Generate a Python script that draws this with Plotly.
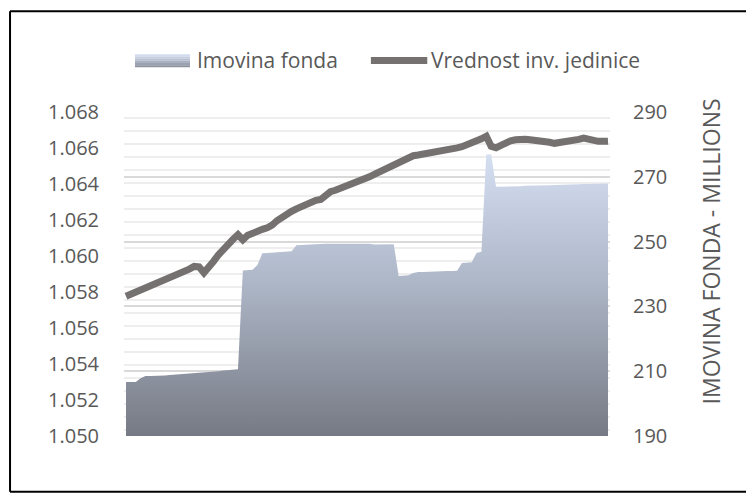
import plotly.graph_objects as go

# fund net asset value per unit (left axis)
unit_value = [
    1.05776, 1.05787, 1.05798, 1.05807, 1.05823, 1.05836, 1.05847, 1.05858, 1.05871, 1.05881,
    1.05891, 1.05901, 1.05912, 1.05927, 1.05942, 1.05940, 1.05907, 1.05934, 1.05971, 1.06007,
    1.06040, 1.06068, 1.06093, 1.06118, 1.06090, 1.06115, 1.06129, 1.06140, 1.06148, 1.06157,
    1.06171, 1.06196, 1.06215, 1.06236, 1.06248, 1.06262, 1.06276, 1.06288, 1.06299, 1.06309,
    1.06314, 1.06340, 1.06357, 1.06365, 1.06375, 1.06384, 1.06397, 1.06404, 1.06414, 1.06423,
    1.06440, 1.06454, 1.06468, 1.06482, 1.06496, 1.06509, 1.06523, 1.06537, 1.06551, 1.06557,
    1.06561, 1.06565, 1.06573, 1.06582, 1.06586, 1.06588, 1.06591, 1.06596, 1.06601, 1.06607,
    1.06615, 1.06626, 1.06640, 1.06651, 1.06665, 1.06609, 1.06601, 1.06615, 1.06629, 1.06640,
    1.06646, 1.06651, 1.06648, 1.06646, 1.06644, 1.06642, 1.06640, 1.06632, 1.06626, 1.06629,
    1.06632, 1.06636, 1.06643, 1.06648, 1.06655, 1.06646, 1.06637, 1.06637, 1.06637, 1.06638,
]

# fund assets, millions (right axis)
fund_assets = [
    206.7, 206.7, 206.7, 207.8, 208.5, 208.5, 208.5, 208.6, 208.7, 208.8,
    208.9, 209.0, 209.1, 209.2, 209.3, 209.4, 209.5, 209.7, 209.8, 210.0,
    210.2, 210.3, 210.4, 210.6, 241.1, 241.2, 241.3, 242.8, 246.4, 246.5,
    246.6, 246.6, 246.7, 246.8, 247.0, 248.9, 249.0, 249.1, 249.1, 249.2,
    249.2, 249.3, 249.3, 249.3, 249.4, 249.4, 249.4, 249.4, 249.4, 249.4,
    249.3, 249.1, 249.1, 249.2, 249.2, 249.2, 239.4, 239.5, 239.6, 240.3,
    240.6, 240.6, 240.7, 240.7, 240.8, 240.8, 240.9, 240.9, 241.0, 243.4,
    243.5, 243.6, 246.5, 246.9, 276.9, 276.9, 266.9, 266.9, 267.0, 267.0,
    267.1, 267.1, 267.2, 267.2, 267.3, 267.3, 267.4, 267.4, 267.5, 267.5,
    267.6, 267.6, 267.7, 267.7, 267.8, 267.8, 267.8, 267.9, 267.9, 267.9,
]

days = list(range(len(unit_value)))

FONT = "Open Sans"
TEXT_COLOR = "#595959"
LINE_COLOR = "#767171"
AREA_SCALE = [[0, "#767a84"], [0.55, "#aeb7c8"], [1, "#d5dff2"]]

fig = go.Figure()

fig.add_trace(go.Scatter(
    x=days,
    y=fund_assets,
    name="Imovina fonda",
    mode="lines",
    line=dict(width=0),
    fill="tozeroy",
    fillcolor="#b4bccb",
    fillgradient=dict(type="vertical", start=190, stop=277, colorscale=AREA_SCALE),
    yaxis="y",
    showlegend=False,
))

fig.add_trace(go.Scatter(
    x=days,
    y=unit_value,
    name="Vrednost inv. jedinice",
    mode="lines",
    line=dict(color=LINE_COLOR, width=7),
    yaxis="y2",
    showlegend=False,
))

fig.update_layout(
    # sized to fit inside the window together with the page's 8px body margin
    width=738,
    height=485,
    paper_bgcolor="white",
    plot_bgcolor="white",
    margin=dict(l=116, r=136, t=104, b=57, autoexpand=False),
    font=dict(family=FONT, size=20, color=TEXT_COLOR),
    xaxis=dict(
        range=[-0.41, len(days) - 0.59],
        showgrid=False,
        showticklabels=False,
        zeroline=False,
        showline=False,
    ),
    yaxis=dict(
        side="right",
        range=[190, 290],
        dtick=20,
        tick0=190,
        showgrid=True,
        gridcolor="#d9d9d9",
        gridwidth=1.5,
        minor=dict(dtick=4, showgrid=True, gridcolor="#eeeeee", gridwidth=1.5),
        zeroline=False,
        showline=False,
        ticks="",
        ticklabelstandoff=22,
        tickfont=dict(size=20, color=TEXT_COLOR),
    ),
    yaxis2=dict(
        side="left",
        overlaying="y",
        range=[1.050, 1.068],
        dtick=0.002,
        tick0=1.050,
        tickformat=".3f",
        showgrid=False,
        zeroline=False,
        showline=False,
        ticks="",
        ticklabelstandoff=24,
        tickfont=dict(size=20, color=TEXT_COLOR),
    ),
)

# legend: area swatch drawn as stacked bands to mimic the gradient
band_colors = ["#d3dcee", "#c6cfe0", "#b8c0d1", "#a9b1c1", "#9aa1b0", "#8c929f"]
y_top, y_bot = 1.178, 1.138
step = (y_top - y_bot) / len(band_colors)
for k, c in enumerate(band_colors):
    fig.add_shape(
        type="rect", xref="paper", yref="paper",
        x0=0.0226, x1=0.1358,
        y0=y_top - (k + 1) * step, y1=y_top - k * step,
        line=dict(width=0), fillcolor=c, layer="above",
    )
fig.add_annotation(
    text="Imovina fonda", xref="paper", yref="paper",
    x=0.146, y=1.159, xanchor="left", yanchor="middle",
    showarrow=False, font=dict(size=21, color=TEXT_COLOR),
)
fig.add_shape(
    type="line", xref="paper", yref="paper",
    x0=0.508, x1=0.624, y0=1.159, y1=1.159,
    line=dict(color=LINE_COLOR, width=7), layer="above",
)
fig.add_annotation(
    text="Vrednost inv. jedinice", xref="paper", yref="paper",
    x=0.6276, y=1.159, xanchor="left", yanchor="middle",
    showarrow=False, font=dict(size=21, color=TEXT_COLOR),
)

# right axis title
fig.add_annotation(
    text="IMOVINA FONDA - MILLIONS",
    xref="paper", yref="paper",
    x=1.245, y=0.57,
    textangle=-90,
    showarrow=False,
    font=dict(size=23, color=TEXT_COLOR),
)

# chart border: top, left and bottom edges (right edge falls outside the view)
bx0, bx1, by0, by1 = -0.2345, 1.45, -0.172, 1.311
for x0, x1, y0, y1 in [(bx0, bx1, by1, by1), (bx0, bx0, by0, by1), (bx0, bx1, by0, by0)]:
    fig.add_shape(
        type="line", xref="paper", yref="paper",
        x0=x0, x1=x1, y0=y0, y1=y1,
        line=dict(color="black", width=2), layer="above",
    )

fig.write_html("out.html")
